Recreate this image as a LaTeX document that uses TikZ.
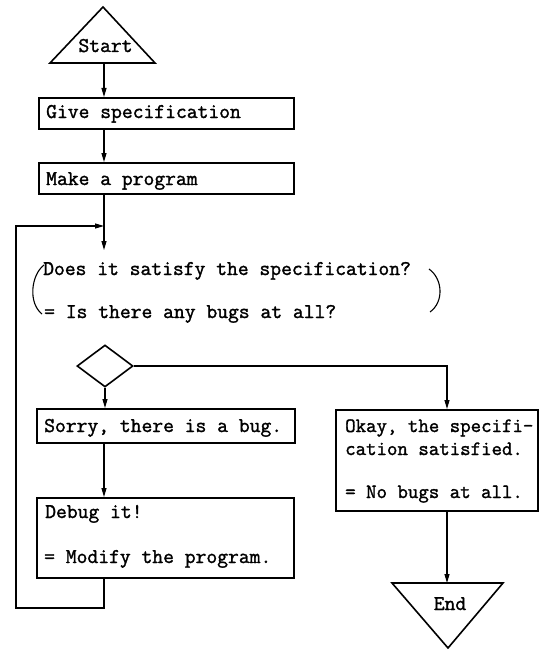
\documentclass[tikz,border=0pt]{standalone}
\usepackage{fontspec}
\setmonofont{Latin Modern Mono}[FakeBold=1.5]
\usetikzlibrary{shapes.geometric,arrows.meta}
\begin{document}
\begin{tikzpicture}[x=1pt,y=-1pt,
  txt/.style={font=\ttfamily\fontsize{21}{24}\selectfont, inner sep=0pt, anchor=base west},
  txtr/.style={font=\ttfamily\fontsize{20.3}{24}\selectfont, inner sep=0pt, anchor=base west},
  shp/.style={draw, line width=1.6pt},
  boxnode/.style={shp, anchor=north west, inner sep=0pt},
  ln/.style={line width=1.1pt},
  arr/.style={ln, -{Stealth[length=9pt,width=5pt,inset=0pt]}}]
\useasboundingbox (0,0) rectangle (556,650);

% columns
\coordinate (col) at (104,0);
\coordinate (rcol) at (447,0);

% start
\draw[shp, line join=miter] (103,7) -- (50,63) -- (155,63) -- cycle;
\node[txt, anchor=base] (start) at (105.5,52) {Start};
\coordinate (sb) at (104,63);

% boxes
\node[boxnode, minimum width=255pt, minimum height=31pt] (give) at (38,97) {};
\node[txt] (givet) at (46,118) {Give specification};
\node[boxnode, minimum width=255pt, minimum height=31pt] (make) at (38,162) {};
\node[txt] (maket) at (46,185) {Make a program};

% question
\node[txt] (q1) at (43,275) {Does it satisfy the specification?};
\node[txt] (q2) at (44,318) {= Is there any bugs at all?};
\draw[ln] (44,265) .. controls (31,275) and (28,303) .. (42,314);
\draw[ln] (429,269) .. controls (443,279) and (444,302) .. (430,312);
\coordinate (qin) at (104,250);

% decision
\node[shp, diamond, minimum width=56pt, minimum height=42pt, inner sep=0pt] (dec) at (105,366) {};

% left branch
\node[boxnode, minimum width=258pt, minimum height=34pt] (sorry) at (36,408) {};
\node[txt] (sorryt) at (44,432) {Sorry, there is a bug.};
\node[boxnode, minimum width=257pt, minimum height=80pt] (debug) at (36,497) {};
\node[txt] (debug1) at (45,518) {Debug it!};
\node[txt] (debug2) at (44,563) {= Modify the program.};

% right branch
\node[boxnode, minimum width=202pt, minimum height=101pt] (okay) at (335,409) {};
\node[txtr] (okay1) at (345,432) {Okay, the specifi-};
\node[txtr] (okay2) at (345,455) {cation satisfied.};
\node[txtr] (okay3) at (345,498) {= No bugs at all.};

% end
\draw[shp, line join=miter] (392,583) -- (503,583) -- (448,648) -- cycle;
\node[txt, anchor=base] (endt) at (450,610) {End};
\coordinate (et) at (447,583);

% loop coordinates
\coordinate (lb) at (16,608);
\coordinate (lt) at (16,226);
\coordinate (jn) at (104,226);

% connectors
\draw[arr] (sb) -- (sb |- give.north);
\draw[arr] (give.south -| col) -- (make.north -| col);
\draw[arr] (make.south -| col) -- (qin);
\draw[arr] (dec.south) -- (sorry.north -| dec.south);
\draw[arr] (dec.east) -| (okay.north -| rcol);
\draw[arr] (sorry.south -| col) -- (debug.north -| col);
\draw[arr] (debug.south -| col) |- (lb) -- (lt) -- (jn);
\draw[arr] (okay.south -| rcol) -- (et);
\end{tikzpicture}
\end{document}
